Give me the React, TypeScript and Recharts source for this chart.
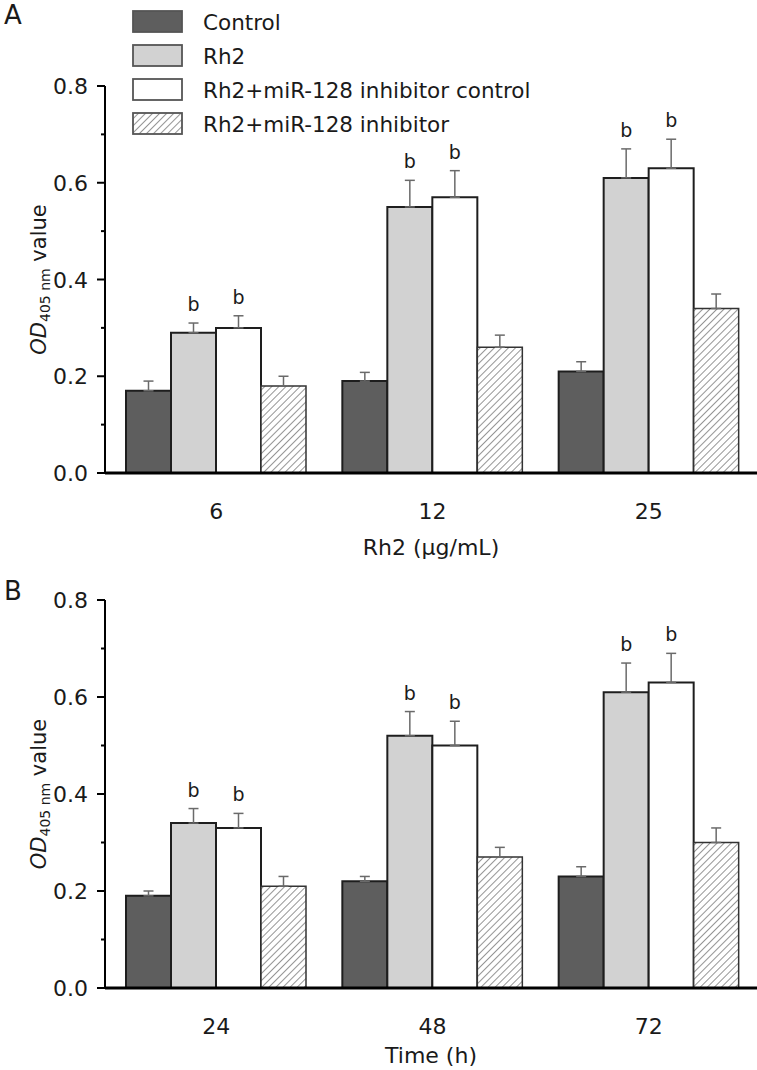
import React from 'react';
import { BarChart, Bar, XAxis, YAxis, ErrorBar, LabelList, Legend } from 'recharts';

// ---------- data ----------
const seriesNames = ['Control', 'Rh2', 'Rh2+miR-128 inhibitor control', 'Rh2+miR-128 inhibitor'];

const doseCategories = ['6', '12', '25'];
const doseControl = [0.17, 0.19, 0.21];
const doseControlErr = [0.02, 0.018, 0.02];
const doseRh2 = [0.29, 0.55, 0.61];
const doseRh2Err = [0.02, 0.055, 0.06];
const doseInhCtrl = [0.30, 0.57, 0.63];
const doseInhCtrlErr = [0.025, 0.055, 0.06];
const doseInh = [0.18, 0.26, 0.34];
const doseInhErr = [0.02, 0.025, 0.03];

const timeCategories = ['24', '48', '72'];
const timeControl = [0.19, 0.22, 0.23];
const timeControlErr = [0.01, 0.01, 0.02];
const timeRh2 = [0.34, 0.52, 0.61];
const timeRh2Err = [0.03, 0.05, 0.06];
const timeInhCtrl = [0.33, 0.50, 0.63];
const timeInhCtrlErr = [0.03, 0.05, 0.06];
const timeInh = [0.21, 0.27, 0.30];
const timeInhErr = [0.02, 0.02, 0.03];

const sigLabel = 'b';
const yTicks = [0, 0.1, 0.2, 0.3, 0.4, 0.5, 0.6, 0.7, 0.8];
const yMajorLabels = ['0.0', '', '0.2', '', '0.4', '', '0.6', '', '0.8'];

const buildRows = (cats: string[], c: number[], ce: number[], r: number[], re: number[], ic: number[], ice: number[], i: number[], ie: number[]) =>
  cats.map((cat, k) => ({
    cat,
    c: c[k], cE: [0, ce[k]],
    r: r[k], rE: [0, re[k]],
    ic: ic[k], icE: [0, ice[k]],
    i: i[k], iE: [0, ie[k]],
  }));

const doseRows = buildRows(doseCategories, doseControl, doseControlErr, doseRh2, doseRh2Err, doseInhCtrl, doseInhCtrlErr, doseInh, doseInhErr);
const timeRows = buildRows(timeCategories, timeControl, timeControlErr, timeRh2, timeRh2Err, timeInhCtrl, timeInhCtrlErr, timeInh, timeInhErr);

// ---------- styles ----------
const FONT = '"DejaVu Sans", Verdana, sans-serif';
const TEXT = '#1a1a1a';
const C_DARK = '#5e5e5e';
const C_LIGHT = '#d2d2d2';
const C_WHITE = '#ffffff';
const BAR_STROKE = '#1e1e1e';
const ERR_COLOR = '#6a6a6a';

const YTick = (props: any) => {
  const { x, y, index } = props;
  const major = index % 2 === 0;
  return (
    <g>
      <line x1={x - (major ? 8 : 4)} x2={x} y1={y} y2={y} stroke="#000" strokeWidth={2} />
      {major && (
        <text x={x - 17} y={y + 8} textAnchor="end" fontSize={22} fontFamily={FONT} fill={TEXT}>
          {yMajorLabels[index]}
        </text>
      )}
    </g>
  );
};

const XTick = (props: any) => {
  const { x, y, payload } = props;
  return (
    <text x={x} y={y + 46} textAnchor="middle" fontSize={22} fontFamily={FONT} fill={TEXT}>
      {payload.value}
    </text>
  );
};

const makeSig = (errs: number[]) => (props: any) => {
  const { x, y, width, height, value, index } = props;
  if (x == null || !value) return null;
  const ppu = height / value;
  const top = y - errs[index] * ppu;
  return (
    <text x={x + width / 2} y={top - 12} textAnchor="middle" fontSize={19} fontFamily={FONT} fill={TEXT}>
      {sigLabel}
    </text>
  );
};

const YLabel = (props: any) => {
  const { viewBox } = props;
  const cy = viewBox.y + viewBox.height / 2;
  const cx = 46;
  return (
    <text transform={`translate(${cx},${cy}) rotate(-90)`} textAnchor="middle" fontSize={21} fontFamily={FONT} fill={TEXT}>
      <tspan fontStyle="italic">OD</tspan>
      <tspan fontSize={14} dy={4}>405 nm</tspan>
      <tspan dy={-4}> value</tspan>
    </text>
  );
};

const makeXLabel = (title: string, off: number) => (props: any) => {
  const { viewBox } = props;
  return (
    <text x={viewBox.x + viewBox.width / 2} y={viewBox.y + off} textAnchor="middle" fontSize={22} fontFamily={FONT} fill={TEXT}>
      {title}
    </text>
  );
};

const HatchDefs = ({ id }: { id: string }) => (
  <defs>
    <pattern id={id} patternUnits="userSpaceOnUse" width={5} height={5} patternTransform="rotate(45)">
      <rect width={5} height={5} fill="#ffffff" />
      <line x1={0} y1={0} x2={0} y2={5} stroke="#7a7a7a" strokeWidth={1.6} />
    </pattern>
  </defs>
);

const legendFills = [C_DARK, C_LIGHT, C_WHITE, 'url(#hatchLegend)'];

const LegendContent = () => (
  <div style={{ fontFamily: FONT }}>
    {seriesNames.map((n, k) => (
      <div key={n} style={{ display: 'flex', alignItems: 'center', height: 34 }}>
        <svg width={52} height={24} style={{ display: 'block' }}>
          {k === 3 && <HatchDefs id="hatchLegend" />}
          <rect x={1} y={1} width={49} height={21} fill={legendFills[k]} stroke="#555" strokeWidth={1.8} />
        </svg>
        <span style={{ marginLeft: 19, fontSize: 21.5, color: TEXT, whiteSpace: 'nowrap' }}>{n}</span>
      </div>
    ))}
  </div>
);

const Panel = ({ rows, hatchId, title, titleOff, height, marginTop, xHeight, legend }: any) => {
  const errs = {
    r: rows.map((d: any) => d.rE[1]),
    ic: rows.map((d: any) => d.icE[1]),
  };
  return (
    <BarChart
      width={757}
      height={height}
      data={rows}
      margin={{ top: marginTop, right: 0, bottom: 0, left: 0 }}
      barSize={45}
      barGap={0}
    >
      <HatchDefs id={hatchId} />
      <XAxis
        dataKey="cat"
        height={xHeight}
        padding={{ left: 3, right: 0 }}
        axisLine={{ stroke: '#000', strokeWidth: 3 }}
        tickLine={false}
        tickSize={0}
        tickMargin={0}
        tick={<XTick />}
        label={{ content: makeXLabel(title, titleOff) }}
      />
      <YAxis
        width={105}
        domain={[0, 0.8]}
        ticks={yTicks}
        interval={0}
        axisLine={{ stroke: '#000', strokeWidth: 2 }}
        tickLine={false}
        tickSize={0}
        tickMargin={0}
        tick={<YTick />}
        label={{ content: <YLabel /> }}
      />
      {legend && (
        <Legend
          layout="vertical"
          align="center"
          verticalAlign="middle"
          content={<LegendContent />}
          wrapperStyle={{ position: 'absolute', top: 5, left: 132, width: 'auto', height: 'auto' }}
        />
      )}
      <Bar dataKey="c" name={seriesNames[0]} fill={C_DARK} stroke={BAR_STROKE} strokeWidth={2} isAnimationActive={false}>
        <ErrorBar dataKey="cE" width={5} stroke={ERR_COLOR} strokeWidth={1.5} isAnimationActive={false} />
      </Bar>
      <Bar dataKey="r" name={seriesNames[1]} fill={C_LIGHT} stroke={BAR_STROKE} strokeWidth={2} isAnimationActive={false}>
        <ErrorBar dataKey="rE" width={5} stroke={ERR_COLOR} strokeWidth={1.5} isAnimationActive={false} />
        <LabelList dataKey="r" content={makeSig(errs.r)} />
      </Bar>
      <Bar dataKey="ic" name={seriesNames[2]} fill={C_WHITE} stroke={BAR_STROKE} strokeWidth={2} isAnimationActive={false}>
        <ErrorBar dataKey="icE" width={5} stroke={ERR_COLOR} strokeWidth={1.5} isAnimationActive={false} />
        <LabelList dataKey="ic" content={makeSig(errs.ic)} />
      </Bar>
      <Bar dataKey="i" name={seriesNames[3]} fill={`url(#${hatchId})`} stroke="#333" strokeWidth={1.5} isAnimationActive={false}>
        <ErrorBar dataKey="iE" width={5} stroke={ERR_COLOR} strokeWidth={1.5} isAnimationActive={false} />
      </Bar>
    </BarChart>
  );
};

export default function App() {
  return (
    <div style={{ position: 'absolute', left: 0, top: 0, width: 757, height: 1070, background: '#fff', overflow: 'hidden', fontFamily: FONT }}>
      <div style={{ position: 'absolute', left: 4, top: 0, fontSize: 26, color: TEXT }}>A</div>
      <div style={{ position: 'absolute', left: 4, top: 576, fontSize: 26, color: TEXT }}>B</div>
      <div style={{ position: 'absolute', left: 0, top: 0 }}>
        <Panel rows={doseRows} hatchId="hatchA" title="Rh2 (μg/mL)" titleOff={82} height={570} marginTop={86} xHeight={97} legend />
      </div>
      <div style={{ position: 'absolute', left: 0, top: 520 }}>
        <Panel rows={timeRows} hatchId="hatchB" title="Time (h)" titleOff={75} height={550} marginTop={80} xHeight={82} legend={false} />
      </div>
    </div>
  );
}
